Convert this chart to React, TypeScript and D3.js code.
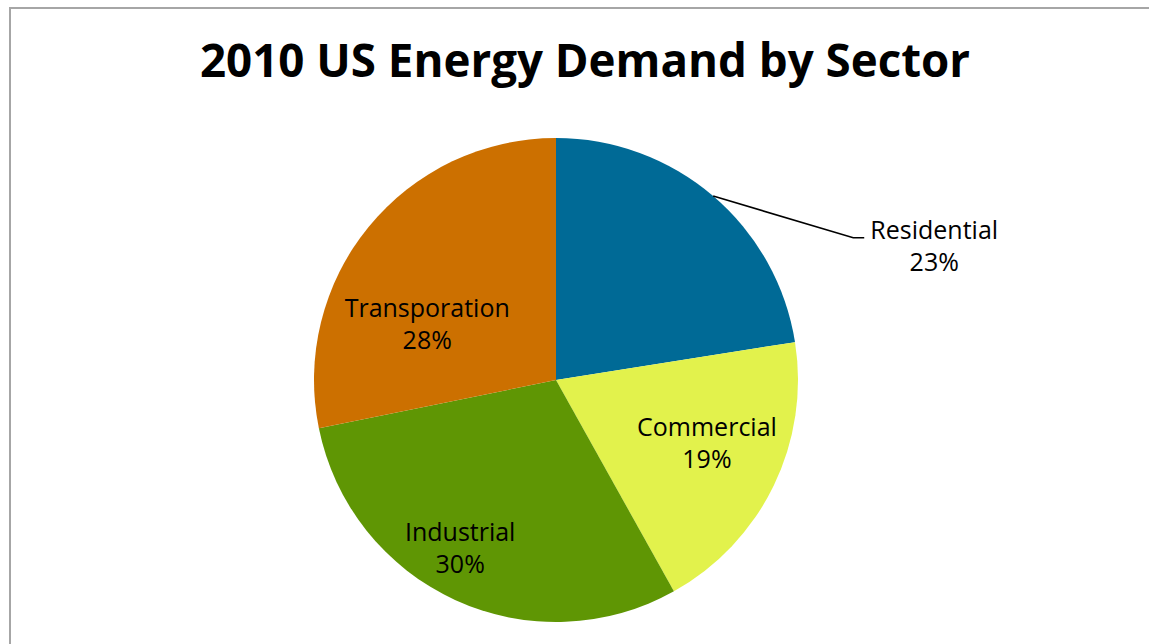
import { useMemo } from "react";
import * as d3 from "d3";

// sectors, clockwise from 12 o'clock
const sectors = ["Residential", "Commercial", "Industrial", "Transporation"];
const shares = [22.5, 19.4, 29.9, 28.2];
const shareLabels = ["23%", "19%", "30%", "28%"];
const colors = ["#006a96", "#e2f24c", "#5f9604", "#cc7000"];

const title = "2010 US Energy Demand by Sector";

const WIDTH = 1149;
const HEIGHT = 644;
const CX = 556;
const CY = 380;
const RADIUS = 242;

// label placement (polar, degrees clockwise from top) – Excel "best fit" look
const labelRadius = [401, 164, 194, 140];
const labelAngle = [70.6, 113, 209.6, 293.1];
const outside = [true, false, false, false];

const FONT = "'Open Sans', 'DejaVu Sans', sans-serif";

export default function App() {
  const slices = useMemo(() => {
    const pie = d3
      .pie<number>()
      .sort(null)
      .value((d) => d);
    return pie(shares);
  }, []);

  const arc = d3
    .arc<d3.PieArcDatum<number>>()
    .innerRadius(0)
    .outerRadius(RADIUS);

  const polar = (r: number, deg: number) => {
    const a = (deg * Math.PI) / 180;
    return [Math.sin(a) * r, -Math.cos(a) * r];
  };

  return (
    <svg
      width={WIDTH}
      height={HEIGHT}
      style={{ position: "absolute", left: 0, top: 0, background: "#fff" }}
    >
      <rect
        x={10}
        y={8}
        width={1300}
        height={800}
        fill="#fff"
        stroke="#a6a6a6"
        strokeWidth={2}
      />
      <text
        x={585}
        y={77}
        textAnchor="middle"
        fontFamily={FONT}
        fontWeight="bold"
        fontSize={46}
        textLength={770}
        lengthAdjust="spacingAndGlyphs"
        fill="#000"
      >
        {title}
      </text>
      <g transform={`translate(${CX},${CY})`}>
        {slices.map((s, i) => (
          <path key={sectors[i]} d={arc(s) ?? ""} fill={colors[i]} />
        ))}
        {slices.map((s, i) => {
          const [lx, ly] = polar(labelRadius[i], labelAngle[i]);
          let leader = null;
          if (outside[i]) {
            const mid = ((s.startAngle + s.endAngle) / 2) * (180 / Math.PI);
            const [sx, sy] = polar(RADIUS, mid);
            const ex = lx - 81;
            const ey = ly - 9;
            leader = (
              <polyline
                points={`${sx},${sy} ${ex},${ey} ${ex + 11},${ey}`}
                fill="none"
                stroke="#000"
                strokeWidth={1.6}
              />
            );
          }
          return (
            <g key={"lbl" + i}>
              {leader}
              <text
                x={lx}
                y={ly - 8}
                textAnchor="middle"
                fontFamily={FONT}
                fontSize={25}
                fill="#000"
              >
                <tspan x={lx}>{sectors[i]}</tspan>
                <tspan x={lx} dy={32}>
                  {shareLabels[i]}
                </tspan>
              </text>
            </g>
          );
        })}
      </g>
    </svg>
  );
}
